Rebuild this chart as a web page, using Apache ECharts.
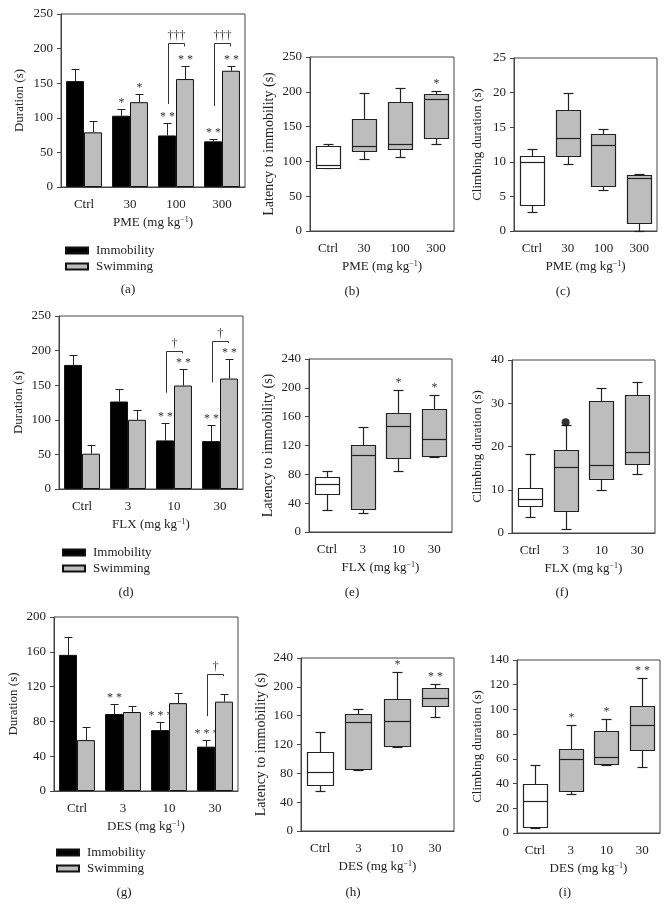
<!DOCTYPE html>
<html><head><meta charset="utf-8">
<script src="https://cdn.jsdelivr.net/npm/echarts@6/dist/echarts.min.js"></script>
<style>html,body{margin:0;padding:0;background:#fff}#c{width:669px;height:908px}</style>
</head><body><div id="c"></div>
<script>
// ---------- DATA ----------
const catPME = ['Ctrl', '30', '100', '300'];
const catDose = ['Ctrl', '3', '10', '30'];

// (a) PME forced swim: mean and top of error bar
const aImm = [153, 103, 74.5, 66];
const aImmErr = [171, 112.5, 92, 70];
const aSwim = [79, 122.6, 156, 168];
const aSwimErr = [95, 134, 174.5, 175];
const aImmSig = ['', '*', '* *', '* *'];
const aSwimSig = ['', '*', '* *', '* *'];
// [category, left foot, top, right foot, mark]
const aBrackets = [[2, 120, 208, 203, '†††'], [3, 117, 208, 203, '†††']];

// (b) PME latency: [min, Q1, median, Q3, max]
const bBox = [[90, 91, 95, 122, 125.7], [103, 115, 122, 161.6, 198], [106.6, 117.6, 124.8, 185.5, 206], [125.7, 134.3, 189.8, 197.4, 201.7]];
const bSig = ['', '', '', '*'];
// (c) PME climbing
const cBox = [[2.8, 3.8, 9.9, 10.8, 11.8], [9.7, 10.8, 13.5, 17.5, 20], [5.9, 6.5, 12.5, 14, 14.7], [0, 1.2, 7.7, 8.1, 8.2]];
const cSig = ['', '', '', ''];

// (d) FLX forced swim
const dImm = [179.3, 126.4, 70.2, 69.2];
const dImmErr = [193.3, 143.8, 95.2, 92.8];
const dSwim = [51, 100, 149.5, 159.6];
const dSwimErr = [63, 114, 173.6, 187.5];
const dImmSig = ['', '', '* *', '* *'];
const dSwimSig = ['', '', '* *', '* *'];
const dBrackets = [[2, 139, 199.5, 196, '†'], [3, 154, 214, 211, '†']];

// (e) FLX latency
const eBox = [[30.5, 53.2, 66.6, 76.8, 85], [25.9, 31.4, 107, 121, 145.7], [84, 102, 147, 165, 197], [104, 105, 129.5, 170, 189.6]];
const eSig = ['', '', '*', '*'];
// (f) FLX climbing
const fBox = [[3.6, 6.3, 7.8, 10.4, 18.2], [1.0, 5.2, 15.2, 19.3, 25], [10, 12.6, 15.8, 30.5, 33.6], [13.6, 16, 18.8, 31.9, 34.8]];
const fSig = ['', '', '', ''];
const fOutliers = [[1, 25.6]];

// (g) DES forced swim
const gImm = [156.5, 88.5, 70, 51];
const gImmErr = [177, 99.6, 79, 59];
const gSwim = [58.5, 90.8, 101, 102.7];
const gSwimErr = [73, 98, 113, 112];
const gImmSig = ['', '* *', '* * *', '* * *'];
const gSwimSig = ['', '', '', ''];
const gBrackets = [[3, 86, 135, 132, '†']];

// (h) DES latency
const hBox = [[56, 63.5, 82.5, 109, 137.6], [84, 86.6, 150.6, 162.6, 168.7], [116, 118, 152.5, 183, 220.6], [158, 173.8, 184.9, 197.9, 203.9]];
const hSig = ['', '', '*', '* *'];
// (i) DES climbing
const iBox = [[4, 4.9, 25.7, 39.7, 55.4], [31.6, 34, 59.7, 67.6, 87.6], [55.1, 55.9, 61.9, 82.7, 91.9], [53.5, 66.8, 87, 102.7, 125.7]];
const iSig = ['', '*', '*', '* *'];

// ---------- STYLE / LAYOUT ----------
const FONT = 'Liberation Serif';
const TXT = '#222';
const AX = '#444';
const GRAY = '#bdbdbd';
const BAR_FRAC = 0.39;

const grids = [
  {left: 61, top: 14, width: 184, height: 173},
  {left: 310, top: 57, width: 144, height: 174},
  {left: 514, top: 58, width: 143, height: 173},
  {left: 59, top: 316, width: 184, height: 173},
  {left: 309, top: 359, width: 143, height: 173},
  {left: 512, top: 360, width: 143, height: 173},
  {left: 54, top: 617, width: 184, height: 174},
  {left: 301, top: 658, width: 153, height: 173},
  {left: 517, top: 660, width: 143, height: 173}
].map(g => Object.assign({show: true, borderColor: AX, borderWidth: 1, containLabel: false}, g));

const panels = [
  {cats: catPME, drug: 'PME', yName: 'Duration (s)', yFs: 13, max: 250, step: 50, yGap: 35, lab: '(a)', lx: 128},
  {cats: catPME, drug: 'PME', yName: 'Latency to immobility (s)', yFs: 14, max: 250, step: 50, yGap: 34, lab: '(b)', lx: 352},
  {cats: catPME, drug: 'PME', yName: 'Climbing duration (s)', yFs: 13, max: 25, step: 5, yGap: 30, lab: '(c)', lx: 563},
  {cats: catDose, drug: 'FLX', yName: 'Duration (s)', yFs: 13, max: 250, step: 50, yGap: 34, lab: '(d)', lx: 126},
  {cats: catDose, drug: 'FLX', yName: 'Latency to immobility (s)', yFs: 14, max: 240, step: 40, yGap: 34, lab: '(e)', lx: 352},
  {cats: catDose, drug: 'FLX', yName: 'Climbing duration (s)', yFs: 13, max: 40, step: 10, yGap: 28, lab: '(f)', lx: 562},
  {cats: catDose, drug: 'DES', yName: 'Duration (s)', yFs: 13, max: 200, step: 40, yGap: 34, lab: '(g)', lx: 124},
  {cats: catDose, drug: 'DES', yName: 'Latency to immobility (s)', yFs: 14, max: 240, step: 40, yGap: 33, lab: '(h)', lx: 353},
  {cats: catDose, drug: 'DES', yName: 'Climbing duration (s)', yFs: 13, max: 140, step: 20, yGap: 33, lab: '(i)', lx: 565}
];
const labY = [290, 292, 292, 593, 593, 593, 893, 893, 893];

const xAxes = panels.map((p, i) => ({
  type: 'category', gridIndex: i, data: p.cats,
  axisLine: {lineStyle: {color: AX, width: 1}},
  axisTick: {alignWithLabel: true, length: 4, lineStyle: {color: AX}},
  axisLabel: {margin: 11, color: TXT, fontFamily: FONT, fontSize: 13},
  name: p.drug + ' (mg kg{sup|−1})', nameLocation: 'middle', nameGap: 29,
  nameTextStyle: {color: TXT, fontFamily: FONT, fontSize: 13,
    rich: {sup: {fontSize: 8, verticalAlign: 'top', color: TXT, fontFamily: FONT, padding: [0, 0, 4, 0]}}}
}));
const yAxes = panels.map((p, i) => ({
  type: 'value', gridIndex: i, min: 0, max: p.max, interval: p.step,
  splitLine: {show: false},
  axisLine: {show: true, lineStyle: {color: AX, width: 1}},
  axisTick: {show: true, length: 4, lineStyle: {color: AX}},
  axisLabel: {margin: 8, color: TXT, fontFamily: FONT, fontSize: 13},
  name: p.yName, nameLocation: 'middle', nameGap: p.yGap,
  nameTextStyle: {color: TXT, fontFamily: FONT, fontSize: p.yFs}
}));

function txt(s, x, y) {
  return {type: 'text', x: x, y: y, style: {text: s, fill: '#333', font: '12px "' + FONT + '"',
    align: 'center', verticalAlign: 'bottom', textAlign: 'center', textVerticalAlign: 'bottom'}};
}

function barSeries(gi, name, vals, color) {
  return {type: 'bar', name: name, xAxisIndex: gi, yAxisIndex: gi, data: vals,
    barWidth: (BAR_FRAC * 100) + '%', barGap: '0%',
    itemStyle: {color: color, borderColor: '#111', borderWidth: 1}, z: 3};
}
function errSeries(gi, vals, errs, sig, side) {
  return {type: 'custom', xAxisIndex: gi, yAxisIndex: gi, z: 2, silent: true,
    data: vals.map((v, i) => [i, v, errs[i]]),
    encode: {x: 0, y: [1, 2]},
    renderItem(params, api) {
      const i = api.value(0);
      const band = api.size([1, 0])[0];
      const off = side * band * BAR_FRAC / 2;
      const p0 = api.coord([i, api.value(1)]);
      const p1 = api.coord([i, api.value(2)]);
      const x = Math.round(p0[0] + off) + 0.5;
      const yt = Math.round(p1[1]) + 0.5;
      const st = {stroke: '#222', lineWidth: 1};
      const ch = [
        {type: 'line', shape: {x1: x, y1: p0[1], x2: x, y2: yt}, style: st},
        {type: 'line', shape: {x1: x - 4, y1: yt, x2: x + 4, y2: yt}, style: st}
      ];
      const s = sig[params.dataIndex];
      if (s) ch.push(txt(s, x, yt - 1));
      return {type: 'group', children: ch};
    }};
}
function bracketSeries(gi, br) {
  return {type: 'custom', xAxisIndex: gi, yAxisIndex: gi, z: 4, silent: true,
    data: br.map(b => [b[0], b[1], b[2], b[3]]),
    encode: {x: 0, y: [1, 2, 3]},
    renderItem(params, api) {
      const i = api.value(0);
      const band = api.size([1, 0])[0];
      const c = api.coord([i, 0])[0];
      const xl = Math.round(c - band * BAR_FRAC / 2 + 1) + 0.5;
      const xr = Math.round(c + band * BAR_FRAC / 2 - 1) + 0.5;
      const yl = api.coord([i, api.value(1)])[1];
      const yt = Math.round(api.coord([i, api.value(2)])[1]) + 0.5;
      const yr = api.coord([i, api.value(3)])[1];
      return {type: 'group', children: [
        {type: 'polyline', shape: {points: [[xl, yl], [xl, yt], [xr, yt], [xr, yr]]}, style: {stroke: '#333', lineWidth: 1, fill: null}},
        txt(br[params.dataIndex][4], (xl + xr) / 2, yt - 2)
      ]};
    }};
}
function boxSeries(gi, data, sig) {
  return {type: 'custom', xAxisIndex: gi, yAxisIndex: gi, z: 3, silent: true,
    data: data.map((d, i) => [i].concat(d)),
    encode: {x: 0, y: [1, 2, 3, 4, 5]},
    renderItem(params, api) {
      const i = api.value(0);
      const band = api.size([1, 0])[0];
      const bw = Math.round(band * 0.68);
      const xc = Math.round(api.coord([i, 0])[0]) + 0.5;
      const y = k => Math.round(api.coord([i, api.value(k)])[1]) + 0.5;
      const yMin = y(1), yQ1 = y(2), yMed = y(3), yQ3 = y(4), yMax = y(5);
      const x0 = xc - bw / 2, x1 = xc + bw / 2;
      const st = {stroke: '#222', lineWidth: 1.2};
      const fill = i === 0 ? '#ffffff' : GRAY;
      const ch = [
        {type: 'line', shape: {x1: xc, y1: yQ3, x2: xc, y2: yMax}, style: st},
        {type: 'line', shape: {x1: xc, y1: yQ1, x2: xc, y2: yMin}, style: st},
        {type: 'line', shape: {x1: xc - 5, y1: yMax, x2: xc + 5, y2: yMax}, style: st},
        {type: 'line', shape: {x1: xc - 5, y1: yMin, x2: xc + 5, y2: yMin}, style: st},
        {type: 'rect', shape: {x: x0, y: yQ3, width: bw, height: yQ1 - yQ3}, style: {fill: fill, stroke: '#222', lineWidth: 1.2}},
        {type: 'line', shape: {x1: x0, y1: yMed, x2: x1, y2: yMed}, style: st}
      ];
      const s = sig[params.dataIndex];
      if (s) ch.push(txt(s, xc, yMax - 2));
      return {type: 'group', children: ch};
    }};
}

const series = [
  barSeries(0, 'Immobility', aImm, '#000'), barSeries(0, 'Swimming', aSwim, GRAY),
  errSeries(0, aImm, aImmErr, aImmSig, -1), errSeries(0, aSwim, aSwimErr, aSwimSig, 1),
  bracketSeries(0, aBrackets),
  boxSeries(1, bBox, bSig), boxSeries(2, cBox, cSig),
  barSeries(3, 'Immobility', dImm, '#000'), barSeries(3, 'Swimming', dSwim, GRAY),
  errSeries(3, dImm, dImmErr, dImmSig, -1), errSeries(3, dSwim, dSwimErr, dSwimSig, 1),
  bracketSeries(3, dBrackets),
  boxSeries(4, eBox, eSig), boxSeries(5, fBox, fSig),
  {type: 'scatter', xAxisIndex: 5, yAxisIndex: 5, data: fOutliers, symbol: 'circle', symbolSize: 8, itemStyle: {color: '#000'}, z: 5},
  barSeries(6, 'Immobility', gImm, '#000'), barSeries(6, 'Swimming', gSwim, GRAY),
  errSeries(6, gImm, gImmErr, gImmSig, -1), errSeries(6, gSwim, gSwimErr, gSwimSig, 1),
  bracketSeries(6, gBrackets),
  boxSeries(7, hBox, hSig), boxSeries(8, iBox, iSig)
];

function legendAt(left, top) {
  return {left: left, top: top, orient: 'vertical', icon: 'rect', itemWidth: 22, itemHeight: 6, itemGap: 3,
    selectedMode: false, data: ['Immobility', 'Swimming'],
    textStyle: {color: TXT, fontFamily: FONT, fontSize: 13, padding: [0, 0, 0, 3]}};
}

const graphic = panels.map((p, i) => ({type: 'text', x: p.lx, y: labY[i],
  style: {text: p.lab, fill: TXT, font: '13px "' + FONT + '"', align: 'center', verticalAlign: 'middle', textAlign: 'center', textVerticalAlign: 'middle'}}));

const chart = echarts.init(document.getElementById('c'), null, {renderer: 'canvas'});
chart.setOption({
  animation: false,
  backgroundColor: '#fff',
  grid: grids, xAxis: xAxes, yAxis: yAxes,
  legend: [legendAt(60, 239), legendAt(57, 541), legendAt(51, 841)],
  graphic: graphic,
  series: series
});
</script></body></html>
